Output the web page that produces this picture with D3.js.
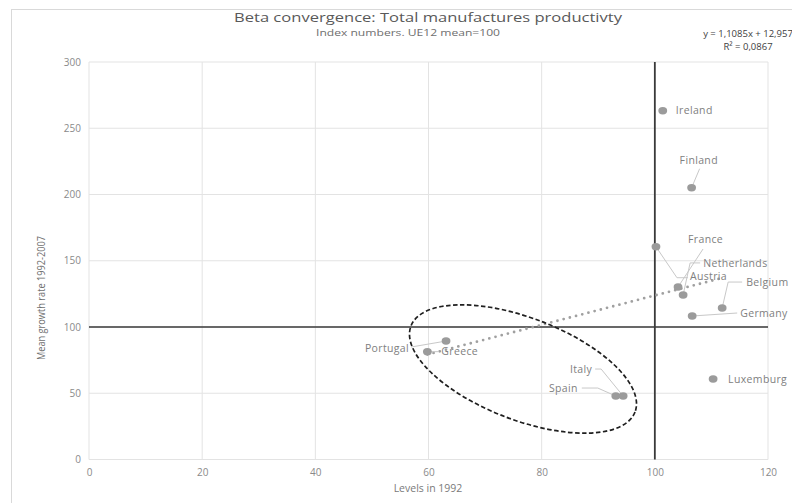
<!DOCTYPE html>
<html><head><meta charset="utf-8">
<script src="https://cdn.jsdelivr.net/npm/d3@7"></script>
<style>
html,body{margin:0;padding:0;background:#fff;}
svg{display:block;font-family:"Open Sans",sans-serif;}
</style></head>
<body><svg id="c" width="792" height="503"></svg>
<script>
// ---- data ----
const countries = ["Ireland","Finland","Austria","France","Netherlands","Belgium","Germany","Luxemburg","Portugal","Greece","Italy","Spain"];
const levels1992 = [101.4,106.5,100.2,104.1,105.0,111.9,106.6,110.3,63.1,59.8,94.4,93.1];
const growthRate = [263.2,205.1,160.6,130.2,124.2,114.3,108.3,60.8,89.4,81.4,47.9,47.9];
const xTicks = [0,20,40,60,80,100,120];
const yTicks = [0,50,100,150,200,250,300];
const trendSlope = 1.1085, trendIntercept = 12.957;
const eqLines = ["y = 1,1085x + 12,957", "R² = 0,0867"];
const meanRef = 100;
const ellipseCenter = [76.7, 68.3];

// ---- layout (label placement, pixels relative to point) ----
const labelLayout = {
  Ireland:{dx:13,dy:0,anchor:"start",leader:null},
  Finland:{dx:-12,dy:-27,anchor:"start",leader:[[8,-19]]},
  Austria:{dx:34,dy:30,anchor:"start",leader:[[21,31],[32,31]]},
  France:{dx:10,dy:-48,anchor:"start",leader:[[25,-38]]},
  Netherlands:{dx:20,dy:-32,anchor:"start",leader:[[7,-32],[17,-32]]},
  Belgium:{dx:24,dy:-26,anchor:"start",leader:[[6,-26],[20,-26]]},
  Germany:{dx:48,dy:-3,anchor:"start",leader:[[45,-3]]},
  Luxemburg:{dx:15,dy:0,anchor:"start",leader:null},
  Portugal:{dx:-37,dy:7,anchor:"end",leader:[[-35,6]]},
  Greece:{dx:14,dy:0,anchor:"start",leader:[[11,0]]},
  Italy:{dx:-31,dy:-27,anchor:"end",leader:[[-22,-27],[-28,-27]]},
  Spain:{dx:-38,dy:-8,anchor:"end",leader:[[-18,-8],[-34,-8]]}
};

const svg = d3.select("#c");
const W = 792, H = 503;
const m = {left:89, right:24, top:62, bottom:43.5};
const x = d3.scaleLinear().domain([0,120]).range([m.left, W-m.right]);
const y = d3.scaleLinear().domain([0,300]).range([H-m.bottom, m.top]);

// chart border
svg.append("rect").attr("x",11.5).attr("y",9.5).attr("width",820).attr("height",540)
  .attr("fill","none").attr("stroke","#d9d9d9").attr("stroke-width",1);

// gridlines
const g = svg.append("g");
g.selectAll(".vg").data(xTicks).join("line")
  .attr("x1",d=>x(d)).attr("x2",d=>x(d)).attr("y1",y(300)).attr("y2",y(0))
  .attr("stroke","#e3e3e3").attr("stroke-width",1);
g.selectAll(".hg").data(yTicks).join("line")
  .attr("x1",x(0)).attr("x2",x(120)).attr("y1",d=>y(d)).attr("y2",d=>y(d))
  .attr("stroke","#e3e3e3").attr("stroke-width",1);

// axes (tick labels only)
const xAxis = svg.append("g").attr("transform",`translate(0,${y(0)})`)
  .call(d3.axisBottom(x).tickValues(xTicks).tickSize(0).tickPadding(9));
const yAxis = svg.append("g").attr("transform",`translate(${x(0)},0)`)
  .call(d3.axisLeft(y).tickValues(yTicks).tickSize(0).tickPadding(8));
[xAxis,yAxis].forEach(a=>{
  a.select(".domain").remove();
  a.selectAll("text").attr("fill","#8a8a8a").style("font-size","10px").style("font-family","'Open Sans',sans-serif");
});

// reference lines
svg.append("line").attr("x1",x(0)).attr("x2",x(120)).attr("y1",y(meanRef)).attr("y2",y(meanRef))
  .attr("stroke","#3a3a3a").attr("stroke-width",1.4);
svg.append("line").attr("x1",x(meanRef)).attr("x2",x(meanRef)).attr("y1",y(300)).attr("y2",y(0))
  .attr("stroke","#3a3a3a").attr("stroke-width",1.8);

// trend line
const xmin = d3.min(levels1992), xmax = d3.max(levels1992);
svg.append("line")
  .attr("x1",x(xmin)).attr("y1",y(trendSlope*xmin+trendIntercept))
  .attr("x2",x(xmax)).attr("y2",y(trendSlope*xmax+trendIntercept))
  .attr("stroke","#a0a0a0").attr("stroke-width",2.8).attr("stroke-linecap","round")
  .attr("stroke-dasharray","0 6.4");

// points data
const pts = countries.map((c,i)=>({name:c, px:x(levels1992[i]), py:y(growthRate[i])}));

// leader lines
svg.append("g").selectAll("polyline").data(pts.filter(p=>labelLayout[p.name].leader)).join("polyline")
  .attr("points",p=>[[p.px,p.py]].concat(labelLayout[p.name].leader.map(q=>[p.px+q[0],p.py+q[1]])).map(q=>q.join(",")).join(" "))
  .attr("fill","none").attr("stroke","#c8c8c8").attr("stroke-width",1);

// ellipse annotation
svg.append("ellipse")
  .attr("cx",x(ellipseCenter[0])).attr("cy",y(ellipseCenter[1]))
  .attr("rx",120).attr("ry",51)
  .attr("transform",`rotate(21,${x(ellipseCenter[0])},${y(ellipseCenter[1])})`)
  .attr("fill","none").attr("stroke","#1f1f1f").attr("stroke-width",1.7).attr("stroke-dasharray","4.5 2.5");

// points
svg.append("g").selectAll("ellipse").data(pts).join("ellipse")
  .attr("cx",p=>p.px).attr("cy",p=>p.py).attr("rx",4.4).attr("ry",3.7)
  .attr("fill","#9b9b9b");

// labels
svg.append("g").selectAll("text").data(pts).join("text")
  .attr("x",p=>p.px+labelLayout[p.name].dx).attr("y",p=>p.py+labelLayout[p.name].dy)
  .attr("dy","0.35em").attr("text-anchor",p=>labelLayout[p.name].anchor)
  .attr("fill","#808080").style("font-size","10.5px").style("letter-spacing","0.35px")
  .text(p=>p.name);

// titles
svg.append("text").attr("x",428).attr("y",22).attr("text-anchor","middle")
  .attr("fill","#595959").style("font-size","13.5px")
  .attr("textLength",388).attr("lengthAdjust","spacingAndGlyphs")
  .text("Beta convergence: Total manufactures productivty");
svg.append("text").attr("x",408).attr("y",36).attr("text-anchor","middle")
  .attr("fill","#6e6e6e").style("font-size","9.5px")
  .attr("textLength",184).attr("lengthAdjust","spacingAndGlyphs")
  .text("Index numbers. UE12 mean=100");

// equation
svg.append("g").selectAll("text").data(eqLines).join("text")
  .attr("x",748).attr("y",(d,i)=>37+i*13).attr("text-anchor","middle")
  .attr("fill","#404040").style("font-size","9.5px").text(d=>d);

// axis titles
svg.append("text").attr("x",428).attr("y",492).attr("text-anchor","middle")
  .attr("fill","#7a7a7a").style("font-size","10.5px").text("Levels in 1992");
svg.append("text").attr("transform","translate(45,298) rotate(-90)").attr("text-anchor","middle")
  .attr("fill","#6e6e6e").style("font-size","10px").attr("textLength",124).attr("lengthAdjust","spacingAndGlyphs")
  .text("Mean growth rate 1992-2007");
</script></body></html>
